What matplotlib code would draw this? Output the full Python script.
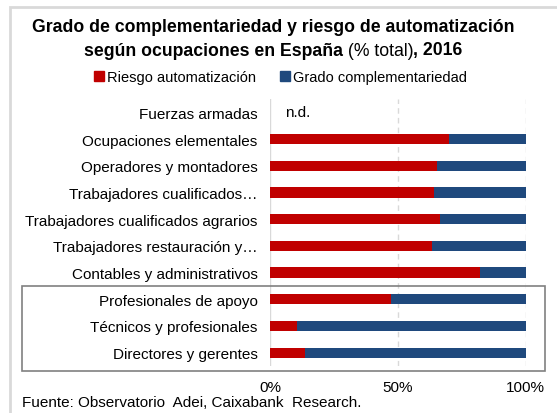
import matplotlib.pyplot as plt
import matplotlib.patches as patches
import numpy as np

plt.rcParams['font.family'] = ['Liberation Sans', 'DejaVu Sans']

# data, top to bottom
ocupaciones = ["Fuerzas armadas", "Ocupaciones elementales", "Operadores y montadores",
               "Trabajadores cualificados…", "Trabajadores cualificados agrarios",
               "Trabajadores restauración y…", "Contables y administrativos",
               "Profesionales de apoyo", "Técnicos y profesionales", "Directores y gerentes"]
riesgo = [np.nan, 70.2, 65.2, 64.3, 66.4, 63.3, 82.2, 47.2, 10.7, 13.7]
complementariedad = [np.nan, 29.8, 34.8, 35.7, 33.6, 36.7, 17.8, 52.8, 89.3, 86.3]
xticks_lab = ["0%", "50%", "100%"]

rojo = "#C00000"
azul = "#1F497D"

fig = plt.figure(figsize=(5.57, 4.14), dpi=100)
W, H = 557, 414
ax = fig.add_axes([270/W, 1-367/H, 255.5/W, 267/H])

y = np.arange(len(ocupaciones))[::-1]
r = np.nan_to_num(np.array(riesgo))
c = np.nan_to_num(np.array(complementariedad))
ax.barh(y, r, height=0.38, color=rojo, zorder=3)
ax.barh(y, c, left=r, height=0.38, color=azul, zorder=3)
ax.text(6, y[0], "n.d.", va="center", ha="left", fontsize=11)

ax.set_xlim(0, 100)
ax.set_ylim(-0.5, len(ocupaciones)-0.5)
ax.set_yticks(y)
ax.set_yticklabels(ocupaciones, fontsize=11)
ax.set_xticks([0, 50, 100])
ax.set_xticklabels(xticks_lab, fontsize=11)
ax.tick_params(axis="y", length=0, pad=9)
ax.tick_params(axis="x", length=0, pad=10)
for s in ax.spines.values():
    s.set_visible(False)
for xv in [0, 50, 100]:
    ax.axvline(xv, color="#d9d9d9", lw=1, ls=(0, (4, 3)) if xv else "-", zorder=1)

# outer chart border
fig.patches.append(patches.Rectangle((10/W, -0.1), 1.2, 1.1-8/H, transform=fig.transFigure,
                                     fill=False, ec="#d9d9d9", lw=2))
# box around the last three
fig.patches.append(patches.Rectangle((22/W, 1-372/H), 523/W, 85/H, transform=fig.transFigure,
                                     fill=False, ec="#808080", lw=1.2, zorder=5))

# title
fig.text(273/W, 1-28/H, "Grado de complementariedad y riesgo de automatización",
         ha="center", va="center", fontsize=12.7, fontweight="bold")
fig.canvas.draw()
rend = fig.canvas.get_renderer()
partes = [("según ocupaciones en España", "bold"), (" (% total)", "normal"), (", 2016", "bold")]
objs = [fig.text(0, 1-51/H, t, va="center", ha="left", fontsize=12.7, fontweight=w) for t, w in partes]
anchos = [o.get_window_extent(rend).width for o in objs]
x0 = 273 - sum(anchos)/2
for o, a in zip(objs, anchos):
    o.set_x(x0/W)
    x0 += a

# legend
h1 = plt.Line2D([], [], marker="s", ls="", color=rojo, markersize=7)
h2 = plt.Line2D([], [], marker="s", ls="", color=azul, markersize=7)
fig.legend([h1, h2], ["Riesgo automatización", "Grado complementariedad"],
           loc="center", bbox_to_anchor=(280/W, 1-78/H), ncol=2, frameon=False,
           fontsize=10.5, handletextpad=0.15, columnspacing=1.6, handlelength=0.8)

fig.text(22/W, 1-403/H, "Fuente: Observatorio  Adei, Caixabank  Research.", fontsize=11,
         va="center", ha="left")

fig.savefig("out.png", dpi=100)
